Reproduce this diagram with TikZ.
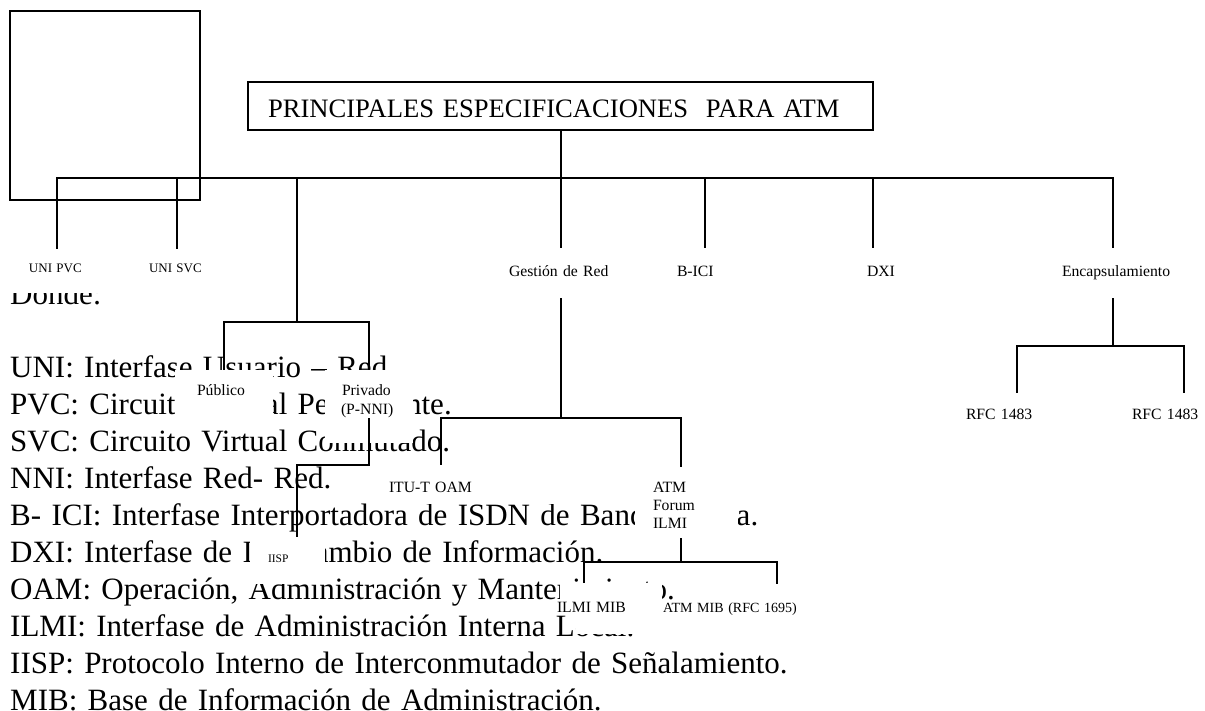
\documentclass[tikz,border=0pt]{standalone}
\usepackage{fontspec}
\setmainfont{Liberation Serif}
\usetikzlibrary{calc}
\frenchspacing
\begin{document}
\begin{tikzpicture}[x=1pt,y=-1pt,
  conn/.style={line width=2pt},
  lbl/.style={fill=white, inner sep=0pt, align=left, font=\fontsize{15.7}{19}\selectfont},
  boxline/.style={draw, line width=2.3pt, inner sep=0pt}
]
\useasboundingbox (0,0) rectangle (1205,711);
\fill[white] (0,0) rectangle (1205,711);

% legend text (lies under the label boxes)
\node[anchor=base west, inner sep=0pt, text width=1150pt, align=left,
      font=\fontsize{31}{36.9}\selectfont\frenchspacing] (legend) at (10,304.2)
{Donde:\\[36.9pt]%
UNI: Interfase Usuario – Red.\\
PVC: Circuito Virtual Permanente.\\
SVC: Circuito Virtual Conmutado.\\
NNI: Interfase Red- Red.\\
B- ICI: Interfase Interportadora de ISDN de Banda Ancha.\\
DXI: Interfase de Intercambio de Información.\\
OAM: Operación, Administración y Mantenimiento.\\
ILMI: Interfase de Administración Interna Local.\\
IISP: Protocolo Interno de Interconmutador de Señalamiento.\\
MIB: Base de Información de Administración.};

% empty box top left
\node[boxline, minimum width=190pt, minimum height=189pt] (blank) at (105,105.5) {};

% title
\node[boxline, line width=2pt, align=left, text width=625pt, text height=36pt, text depth=12pt,
      font=\fontsize{26.6}{30}\selectfont] (title) at (560.5,106)
  {\hspace*{20pt}PRINCIPALES ESPECIFICACIONES\ \ PARA ATM};

% first level labels
\node[lbl, text width=112pt, text height=24pt, text depth=20pt, font=\fontsize{13}{15}\selectfont] (unipvc) at (57,271) {\hspace*{28pt}UNI PVC};
\node[lbl, text width=112pt, text height=24pt, text depth=20pt, font=\fontsize{13}{15}\selectfont] (unisvc) at (177,271) {\hspace*{28pt}UNI SVC};
\node[lbl, text width=120pt, text height=29pt, text depth=21pt] (gest) at (561,273) {\hspace*{8pt}Gestión de Red};
\node[lbl, text width=60pt, text height=29pt, text depth=21pt] (bici) at (705,273) {\hspace*{2pt}B-ICI};
\node[lbl, text width=54pt, text height=29pt, text depth=21pt] (dxi) at (873,273) {\hspace*{21pt}DXI};
\node[lbl, text width=130pt, text height=29pt, text depth=21pt] (encap) at (1113,273) {\hspace*{14pt}Encapsulamiento};

% second level
\node[lbl, text width=98pt, text height=25pt, text depth=30pt] (pub) at (224,397.5) {\hspace*{22pt}Público};
\node[lbl, text width=88pt, text height=25pt, text depth=48pt] (priv) at (369,406.5) {\hspace*{17pt}Privado\\\hspace*{16pt}(P-NNI)};
\node[lbl, text width=100pt, text height=26pt, text depth=11pt] (rfc1) at (1017,411.5) {\hspace*{-1pt}RFC 1483};
\node[lbl, text width=100pt, text height=26pt, text depth=11pt] (rfc2) at (1184,411.5) {\hspace*{-2pt}RFC 1483};
\node[lbl, text width=172pt, text height=25pt, text depth=12pt] (ituoam) at (471,485.5) {\hspace*{4pt}ITU-T OAM};
\node[lbl, text width=103pt, text height=25pt, text depth=46pt, font=\fontsize{15.7}{18}\selectfont] (atmforum) at (686.5,502.5) {\hspace*{18pt}ATM\\\hspace*{18pt}Forum\\\hspace*{18pt}ILMI};
\node[lbl, text width=75pt, text height=22pt, text depth=22pt, font=\fontsize{11.5}{13}\selectfont] (iisp) at (287.5,562) {\hspace*{18pt}IISP};
\node[lbl, text width=224pt, text height=12pt, text depth=22pt, font=\fontsize{14}{16}\selectfont] (atmmib) at (688,617) {\hspace*{87pt}ATM MIB (RFC 1695)};
\node[lbl, text width=102pt, text height=29pt, text depth=3pt] (ilmimib) at (611,599) {\hspace*{-3pt}ILMI MIB};

% bar levels
\coordinate (bar) at (0,178);
\coordinate (pbar) at (0,322);
\coordinate (ebar) at (0,346);
\coordinate (gbar) at (0,418);
\coordinate (ibar) at (0,465);
\coordinate (fbar) at (0,562);

% connectors
\draw[conn] (title.south) -- (title.south |- bar);
\draw[conn] (unipvc.north) -- (unipvc.north |- bar) -- (encap.north |- bar) -- (encap.north);
\draw[conn] (unisvc.north) -- (unisvc.north |- bar);
\coordinate (pmid) at ($(pub.north |- pbar)!0.5!(priv.north |- pbar)$);
\draw[conn] (pmid) -- (pmid |- bar);
\draw[conn] (gest.north) -- (gest.north |- bar);
\draw[conn] (bici.north) -- (bici.north |- bar);
\draw[conn] (dxi.north) -- (dxi.north |- bar);

\draw[conn] (pub.north) -- (pub.north |- pbar) -- (priv.north |- pbar) -- (priv.north);
\coordinate (privout) at ([yshift=25pt]priv.south);
\coordinate (iispT) at ([xshift=9.5pt,yshift=3pt]iisp.north);
\draw[conn] (privout) -- (privout |- ibar) -- (iispT |- ibar) -- (iispT);

\draw[conn] (gest.south) -- (gest.south |- gbar);
\coordinate (ituT) at ([xshift=-30pt,yshift=2pt]ituoam.north);
\coordinate (afT) at ([xshift=-5.5pt]atmforum.north);
\coordinate (afB) at ([xshift=-5.5pt]atmforum.south);
\draw[conn] (ituT) -- (ituT |- gbar) -- (afT |- gbar) -- (afT);
\draw[conn] (afB) -- (afB |- fbar);
\coordinate (ilmiT) at ([xshift=-27pt]ilmimib.north);
\coordinate (atmT) at ([xshift=89pt,yshift=16pt]atmmib.north);
\draw[conn] (ilmiT) -- (ilmiT |- fbar) -- (atmT |- fbar) -- (atmT);

\draw[conn] (encap.south) -- (encap.south |- ebar);
\draw[conn] (rfc1.north) -- (rfc1.north |- ebar) -- (rfc2.north |- ebar) -- (rfc2.north);
\end{tikzpicture}
\end{document}
